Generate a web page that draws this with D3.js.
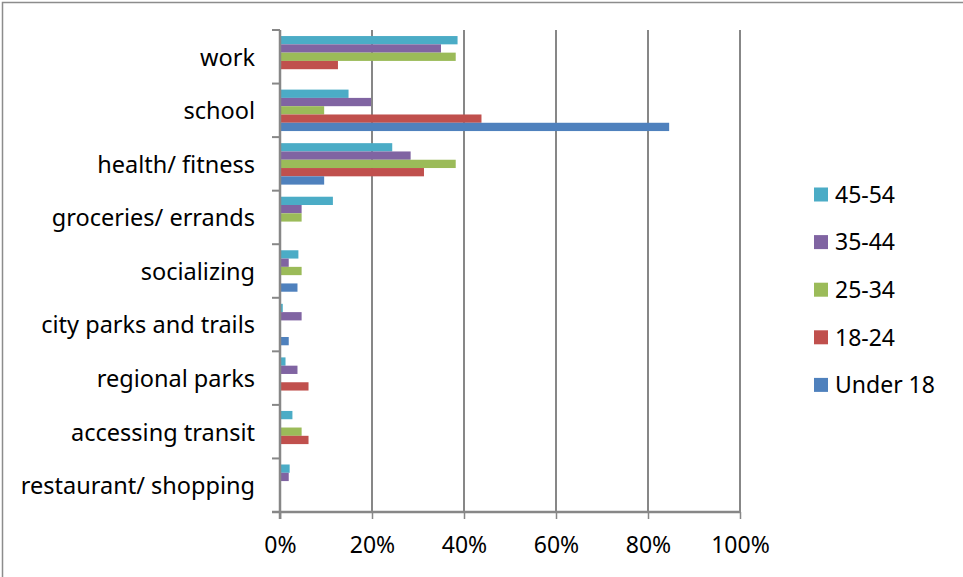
<!DOCTYPE html>
<html><head><meta charset="utf-8">
<script src="https://cdn.jsdelivr.net/npm/d3@7"></script>
<style>html,body{margin:0;padding:0;background:#fff;}svg{display:block;}</style>
</head><body>
<svg id="c" width="963" height="577"></svg>
<script>
const categories = ["work","school","health/ fitness","groceries/ errands","socializing","city parks and trails","regional parks","accessing transit","restaurant/ shopping"];
const seriesNames = ["45-54","35-44","25-34","18-24","Under 18"];
const seriesColors = ["#4BACC6","#8064A2","#9BBB59","#C0504D","#4F81BD"];
const v4554 = [38.6,14.9,24.4,11.5,4.0,0.6,1.2,2.7,2.1];
const v3544 = [35.0,19.8,28.4,4.7,1.9,4.7,3.8,0,1.9];
const v2534 = [38.2,9.6,38.2,4.7,4.7,0,0,4.7,0];
const v1824 = [12.6,43.8,31.3,0,0,0,6.2,6.2,0];
const vU18 = [0,84.6,9.6,0,3.8,1.9,0,0,0];
const seriesValues = [v4554,v3544,v2534,v1824,vU18];
const xTicks = [0,20,40,60,80,100];

const svg = d3.select("#c");
const font = "'Noto Sans', sans-serif";
const L=280, R=740, T=30, B=512;

svg.append("rect").attr("x",2.5).attr("y",2.5).attr("width",980).attr("height",600)
  .attr("fill","none").attr("stroke","#8c8c8c").attr("stroke-width",1.5);

const x = d3.scaleLinear().domain([0,100]).range([L,R]);
const y = d3.scaleBand().domain(categories).range([T,B]).paddingInner(0.226).paddingOuter(0.113);
const ys = d3.scaleBand().domain(seriesNames).range([0,y.bandwidth()]);

// gridlines
svg.append("g").selectAll("line").data(xTicks.slice(1)).join("line")
  .attr("x1",d=>x(d)).attr("x2",d=>x(d)).attr("y1",T).attr("y2",B)
  .attr("stroke","#878787").attr("stroke-width",2);

// bars
seriesNames.forEach((s,si)=>{
  svg.append("g").selectAll("rect").data(categories.map((c,i)=>({c,v:seriesValues[si][i]})).filter(d=>d.v>0))
    .join("rect")
    .attr("x",x(0)).attr("y",d=>y(d.c)+ys(s))
    .attr("width",d=>x(d.v)-x(0)).attr("height",ys.bandwidth())
    .attr("fill",seriesColors[si]);
});

// x axis
const xAxis = d3.axisBottom(x).tickValues(xTicks).tickFormat(d=>d+"%").tickSize(7).tickPadding(10);
const gx = svg.append("g").attr("transform",`translate(0,${B})`).call(xAxis);
gx.select(".domain").attr("stroke","#878787").attr("stroke-width",2.5).attr("d",`M${L-8},0H${R}`);
gx.selectAll(".tick line").attr("stroke","#878787").attr("stroke-width",1.5);
gx.selectAll("text").attr("font-family",font).attr("font-size",23).attr("fill","#000")
  .attr("y",41).attr("dy",0);

// y axis
const bounds = d3.range(categories.length+1).map(i=>T+(B-T)*i/categories.length);
svg.append("g").selectAll("line").data(bounds).join("line")
  .attr("x1",L-8).attr("x2",L).attr("y1",d=>d).attr("y2",d=>d)
  .attr("stroke","#878787").attr("stroke-width",2);
svg.append("line").attr("x1",L).attr("x2",L).attr("y1",T).attr("y2",B+7)
  .attr("stroke","#878787").attr("stroke-width",2.5);
svg.append("g").selectAll("text").data(categories).join("text")
  .attr("x",255).attr("y",d=>y(d)+y.bandwidth()/2).attr("dy","0.38em")
  .attr("text-anchor","end").attr("font-family",font).attr("font-size",23.5).attr("fill","#000")
  .text(d=>d);

// legend
const lg = svg.append("g");
seriesNames.forEach((s,i)=>{
  const cy = 194.5 + i*47.6;
  lg.append("rect").attr("x",814).attr("y",cy-7).attr("width",14).attr("height",14).attr("fill",seriesColors[i]);
  lg.append("text").attr("x",835).attr("y",cy).attr("dy","0.36em").attr("font-family",font)
    .attr("font-size",23).attr("fill","#000").text(s);
});
</script>
</body></html>
